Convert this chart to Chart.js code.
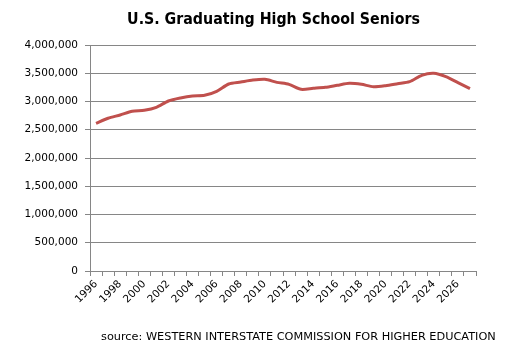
<!DOCTYPE html>
<html>
<head>
<meta charset="utf-8">
<script src="https://cdn.jsdelivr.net/npm/chart.js@4"></script>
<style>
  html, body { margin: 0; padding: 0; background: #fff; }
  #wrap { position: relative; width: 518px; height: 359px; overflow: hidden; }
  #c { position: absolute; left: 0; top: 0; }
  #title { position: absolute; left: 0; top: 9px; width: 547px; text-align: center;
           font: bold 15.8px "DejaVu Sans Condensed", "DejaVu Sans", sans-serif; color: #000; }
  #source { position: absolute; left: 101px; top: 330px; white-space: nowrap;
            font: 11.3px "DejaVu Sans", sans-serif; color: #000; }
</style>
</head>
<body>
<div id="wrap">
  <canvas id="c" width="518" height="359"></canvas>
  <div id="title">U.S. Graduating High School Seniors</div>
  <div id="source">source: WESTERN INTERSTATE COMMISSION FOR HIGHER EDUCATION</div>
</div>
<script>
const years = [1996,1997,1998,1999,2000,2001,2002,2003,2004,2005,2006,2007,2008,2009,2010,2011,
               2012,2013,2014,2015,2016,2017,2018,2019,2020,2021,2022,2023,2024,2025,2026,2027];
const graduates = [2614000,2703000,2761000,2826000,2844000,2897000,3009000,3062000,3097000,3109000,
                   3180000,3310000,3345000,3380000,3393000,3339000,3304000,3216000,3233000,3251000,
                   3287000,3322000,3304000,3262000,3280000,3315000,3351000,3463000,3498000,3439000,
                   3333000,3227000];
const yTicks = [0,500000,1000000,1500000,2000000,2500000,3000000,3500000,4000000];

const gray = '#868686';
const tickFont = { family: '"DejaVu Sans", sans-serif', size: 10.5 };

new Chart(document.getElementById('c'), {
  type: 'line',
  data: {
    labels: years.map(String),
    datasets: [{
      data: graduates,
      borderColor: '#c0504d',
      borderWidth: 3,
      pointRadius: 0,
      tension: 0.25,
      fill: false
    }]
  },
  options: {
    responsive: false,
    animation: false,
    layout: { padding: { top: 45, right: 42, bottom: 0, left: 0 } },
    plugins: { legend: { display: false }, tooltip: { enabled: false }, title: { display: false } },
    scales: {
      x: {
        offset: true,
        grid: { display: true, drawOnChartArea: false, drawTicks: true, tickLength: 5, offset: true, color: gray },
        border: { color: gray },
        ticks: {
          autoSkip: false, maxRotation: 45, minRotation: 45, color: '#000', font: tickFont, padding: 2,
          callback: function(v, i) { return i % 2 === 0 ? years[i] : ''; }
        },
        afterFit: function(s) { s.height = 88; }
      },
      y: {
        min: 0, max: 4000000,
        afterBuildTicks: function(s) { s.ticks = yTicks.map(v => ({ value: v })); },
        grid: { color: gray, tickLength: 5, drawTicks: true },
        border: { color: gray },
        ticks: {
          color: '#000', font: tickFont, padding: 7,
          callback: function(v) { return Number(v).toLocaleString('en-US'); }
        },
        afterFit: function(s) { s.width = 90; }
      }
    }
  }
});
</script>
</body>
</html>
